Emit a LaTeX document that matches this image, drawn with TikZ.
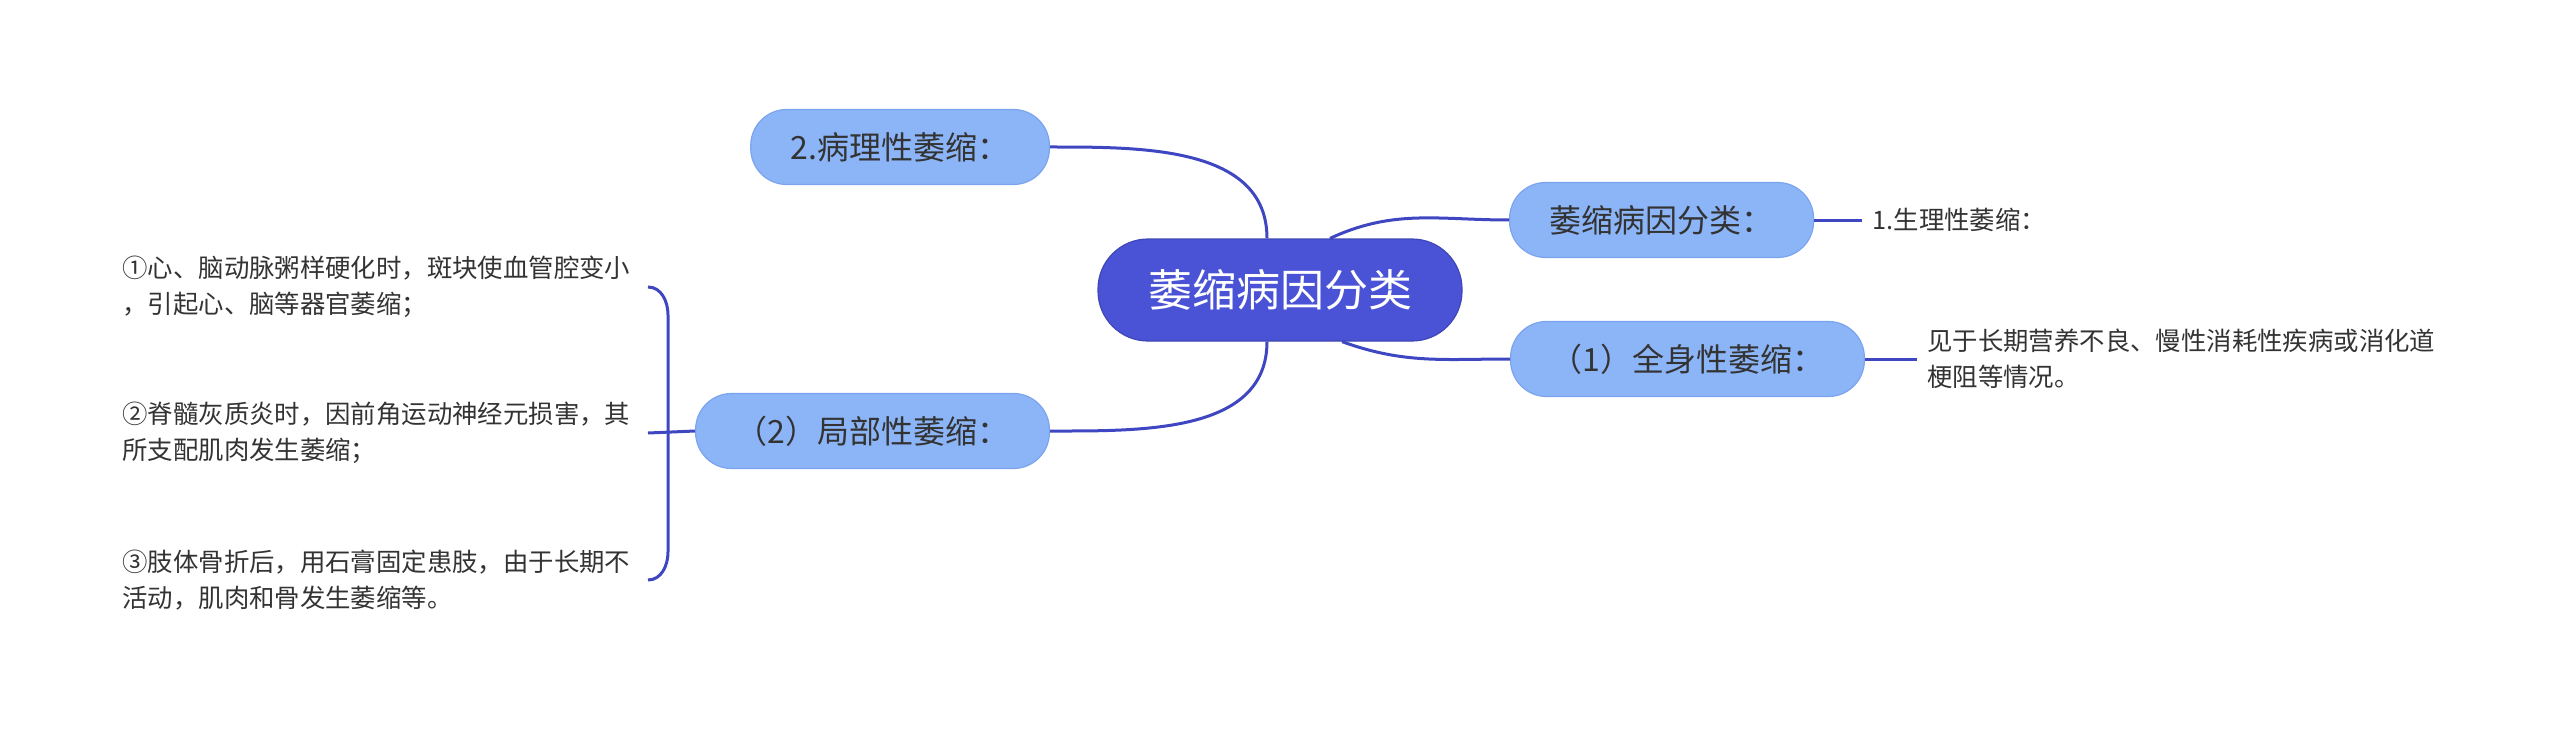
\documentclass[tikz,border=0pt]{standalone}
\usepackage{fontspec}
\setmainfont{Noto Sans CJK SC}
\usetikzlibrary{positioning,calc}
\definecolor{rootblue}{HTML}{4A53D6}
\definecolor{nodeblue}{HTML}{8CB5F8}
\definecolor{nodeedge}{HTML}{7BA4EE}
\definecolor{linkblue}{HTML}{3F46C2}
\definecolor{inkgray}{HTML}{333333}

\begin{document}
\begin{tikzpicture}[x=0.5pt, y=-0.5pt, node distance=24pt]
\tikzstyle{root}=[draw=rootblue!85!black, line width=0.6pt, fill=rootblue, text=white, rounded corners=25pt, minimum height=51pt, inner xsep=25pt, font=\fontsize{22}{26}\selectfont]
\tikzstyle{branch}=[draw=nodeedge, line width=0.6pt, fill=nodeblue, text=inkgray, rounded corners=18pt, minimum height=37.5pt, inner xsep=20pt, font=\fontsize{16}{20}\selectfont]
\tikzstyle{leaf}=[text=inkgray, align=left, inner sep=5pt, font=\fontsize{12.7}{18}\selectfont]
\tikzstyle{link}=[draw=linkblue, line width=1.5pt]

\useasboundingbox (0,0) rectangle (2560,733);

\node[root] (c) at (1280,290) {萎缩病因分类};
\node[branch, anchor=east] (patho) at (1050,147) {2.病理性萎缩：};
\node[branch, anchor=east] (local) at (1050,431) {（2）局部性萎缩：};
\node[branch, anchor=west] (kinds) at (1509,220) {萎缩病因分类：};
\node[branch, anchor=west] (whole) at (1510,359) {（1）全身性萎缩：};

\node[leaf, right=of kinds] (physio) {1.生理性萎缩：};
\node[leaf, right=26pt of whole] (wholetxt) {见于长期营养不良、慢性消耗性疾病或消化道\\梗阻等情况。};

\node[leaf, anchor=west] (l1) at (112,287) {①心、脑动脉粥样硬化时，斑块使血管腔变小\\，引起心、脑等器官萎缩；};
\node[leaf, anchor=west] (l2) at (112,433) {②脊髓灰质炎时，因前角运动神经元损害，其\\所支配肌肉发生萎缩；};
\node[leaf, anchor=west] (l3) at (112,580) {③肢体骨折后，用石膏固定患肢，由于长期不\\活动，肌肉和骨发生萎缩等。};
\coordinate (bx) at (648,0);

\path
([xshift=-6.5pt]c.north) edge[link, out=90, in=0] (patho.east)
([xshift=-6.5pt]c.south) edge[link, out=-90, in=0] (local.east)
([xshift=25pt]c.north) edge[link, out=25, in=180] (kinds.west)
([xshift=31pt]c.south) edge[link, out=-20, in=180] (whole.west)
(kinds.east) edge[link] (physio.west)
(whole.east) edge[link] (wholetxt.west)
(l2 -| bx) edge[link] (local.west);

\draw[link] (l1 -| bx) to[out=0, in=90] ($(l1 -| bx)+(20,28)$) -- ($(l3 -| bx)+(20,-28)$) to[out=-90, in=0] (l3 -| bx);
\end{tikzpicture}
\end{document}
